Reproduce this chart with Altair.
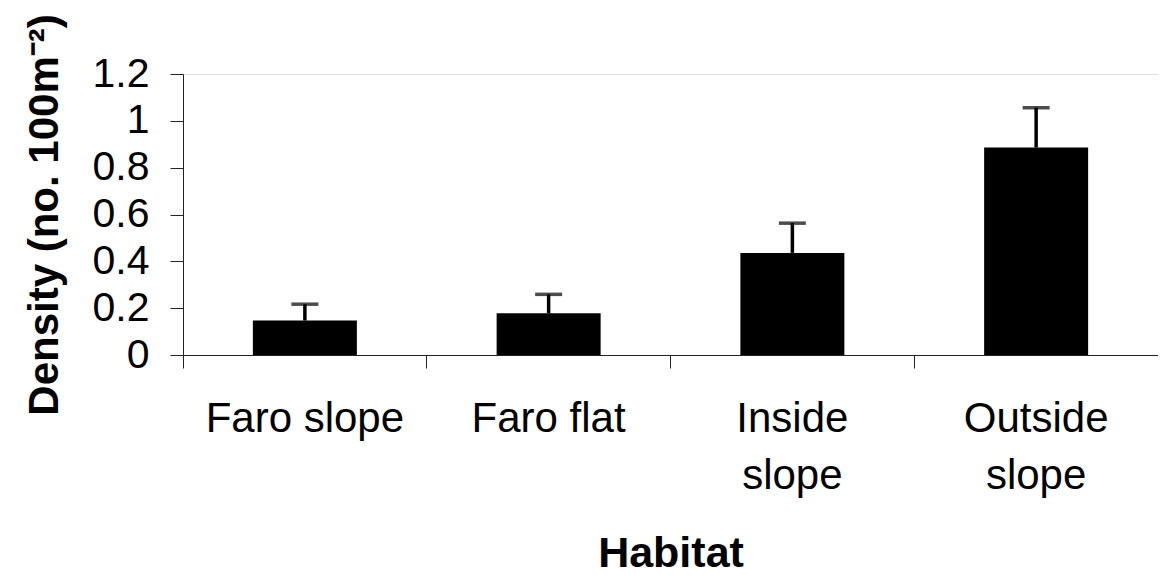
import altair as alt
import pandas as pd

habitats = ["Faro slope", "Faro flat", "Inside slope", "Outside slope"]
density = [0.147, 0.178, 0.436, 0.886]
upper = [0.217, 0.259, 0.563, 1.056]
y_ticks = [0, 0.2, 0.4, 0.6, 0.8, 1.0, 1.2]

df = pd.DataFrame({"habitat": habitats, "density": density, "upper": upper})

FONT = "Liberation Sans"
W, H = 975, 281

x_enc = alt.X(
    "habitat:N",
    sort=habitats,
    scale=alt.Scale(paddingInner=0, paddingOuter=0),
    axis=alt.Axis(
        title="Habitat",
        titleFont=FONT,
        titleFontSize=43,
        titleFontWeight="bold",
        titleColor="black",
        titleX=W / 2,
        titleY=211,
        titleBaseline="alphabetic",
        titleAlign="center",
        labelFont=FONT,
        labelFontSize=42,
        labelColor="black",
        labelAngle=0,
        labelPadding=30,
        labelLineHeight=57,
        labelLimit=500,
        labelOverlap=False,
        bandPosition=0,
        tickSize=13,
        tickColor="#222",
        domainColor="#222",
        labelExpr="(indexof(datum.label, 'Inside') == 0 || indexof(datum.label, 'Outside') == 0) ? split(datum.label, ' ') : datum.label",
    ),
)

y_scale = alt.Scale(domain=[0, 1.2], nice=False, zero=True)
y_axis = alt.Axis(
    title="Density (no. 100m\u207b\u00b2)",
    titleFont=FONT,
    titleFontSize=42,
    titleFontWeight="bold",
    titleColor="black",
    titleAngle=-90,
    titleX=-126,
    titleY=H / 2,
    titleBaseline="alphabetic",
    titleAlign="center",
    values=y_ticks,
    format="~g",
    labelFont=FONT,
    labelFontSize=41,
    labelColor="black",
    labelPadding=21,
    tickSize=13,
    tickColor="#222",
    domainColor="#222",
    grid=False,
)

bars = alt.Chart(df).mark_bar(size=104, color="black").encode(
    x=x_enc,
    y=alt.Y("density:Q", scale=y_scale, axis=y_axis),
)

stems = alt.Chart(df).mark_rule(color="black", strokeWidth=3.5).encode(
    x=alt.X("habitat:N", sort=habitats),
    y="density:Q",
    y2="upper:Q",
)

caps = alt.Chart(df).mark_tick(color="black", size=27, thickness=3.5).encode(
    x=alt.X("habitat:N", sort=habitats),
    y="upper:Q",
)

chart = (
    alt.layer(bars, stems, caps)
    .properties(
        width=W,
        height=H,
        autosize=alt.AutoSizeParams(type="none"),
        padding={"left": 175, "top": 66, "right": 0, "bottom": 214},
    )
    .configure_view(stroke=None)
    .configure(background="white")
)

chart.save("out.html", embed_options={"renderer": "svg", "actions": False})
